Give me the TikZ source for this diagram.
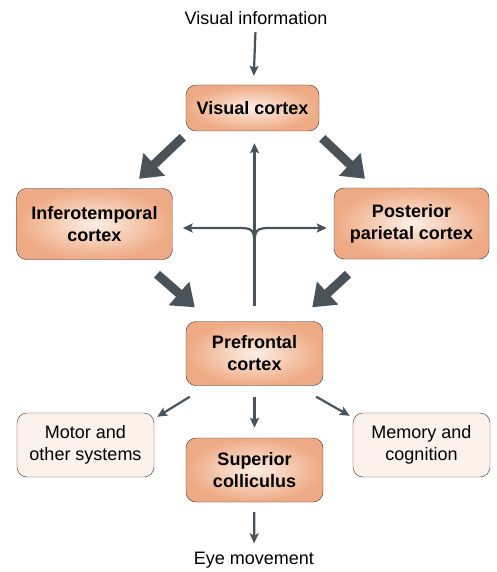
\documentclass[tikz,border=0pt]{standalone}
\usepackage{fontspec}
\setmainfont{Liberation Sans}
\usetikzlibrary{arrows.meta}
\definecolor{arrowgrey}{RGB}{74,83,89}
\definecolor{peach}{RGB}{238,170,132}
\definecolor{peachlight}{RGB}{253,238,228}
\definecolor{cream}{RGB}{253,242,235}
\tikzset{
  area/.style = {rectangle, rounded corners=10pt, draw=black!80, inner color=peachlight, outer color=peach, align=center, font=\bfseries\fontsize{18}{22}\selectfont},
  sys/.style  = {rectangle, rounded corners=10pt, draw=black!80, fill=cream, minimum width=137pt, minimum height=64pt, align=center, font=\fontsize{18}{22}\selectfont},
  big/.style  = {line width=9pt, arrowgrey, -{Triangle[length=21pt,width=30pt]}},
  fine/.style = {line width=2.2pt, arrowgrey, -{Stealth[length=10pt,width=9pt,inset=2pt]}},
  et/.style   = {font=\fontsize{18}{22}\selectfont}
}
\begin{document}
\begin{tikzpicture}[x=1pt,y=-1pt]
  \useasboundingbox (0,0) rectangle (496,572);

  % boxes
  \node[et] (vi) at (256,18) {Visual information};
  \node[area, minimum width=133pt, minimum height=46pt] (vc) at (252.5,108) {Visual cortex};
  \node[area, minimum width=156pt, minimum height=71pt] (it) at (94.5,224) {Inferotemporal\\cortex};
  \node[area, minimum width=155pt, minimum height=71pt] (pp) at (411.5,223.5) {Posterior\\parietal cortex};
  \node[area, minimum width=137pt, minimum height=64pt] (pf) at (254.5,353.5) {Prefrontal\\cortex};
  \node[sys] (mo) at (85.5,445) {Motor and\\other systems};
  \node[area, minimum width=137pt, minimum height=64pt] (sc) at (254.5,470) {Superior\\colliculus};
  \node[sys] (me) at (421.5,445) {Memory and\\cognition};
  \node[et] (em) at (254,560) {Eye movement};

  % input / output
  \draw[fine, shorten <=4pt, shorten >=9pt] (vi) -- (vc);
  \draw[fine, shorten <=10pt, shorten >=5pt] (sc) -- (em);

  % big pathways
  \draw[big] ([shift={(-3,6)}]vc.south west) -- ([shift={(44.5,-9.5)}]it.north);
  \draw[big] ([shift={(3,7)}]vc.south east) -- ([shift={(-46.5,-9)}]pp.north);
  \draw[big] ([shift={(62.5,14.5)}]it.south) -- ([shift={(9,-14)}]pf.north west);
  \draw[big] ([shift={(-63.5,15)}]pp.south) -- ([shift={(-11,-14)}]pf.north east);

  % feedback from prefrontal
  \coordinate (fork) at (254.5,252);
  \coordinate (hl) at (254.5,228);
  \draw[fine, shorten <=15pt, shorten >=12pt] (pf.north) -- (pf.north |- vc.south);
  \draw[fine, shorten >=10pt] (fork) .. controls (hl) .. ([xshift=-20pt]hl) -- (hl -| it.east);
  \draw[fine, shorten >=7pt] (fork) .. controls (hl) .. ([xshift=20pt]hl) -- (hl -| pp.west);

  % outputs
  \draw[fine] ([shift={(4,11)}]pf.south west) -- ([shift={(3,4)}]mo.north east);
  \draw[fine, shorten <=11pt, shorten >=10pt] (pf) -- (sc);
  \draw[fine] ([shift={(-7,11)}]pf.south east) -- ([shift={(-3,3)}]me.north west);
\end{tikzpicture}
\end{document}
